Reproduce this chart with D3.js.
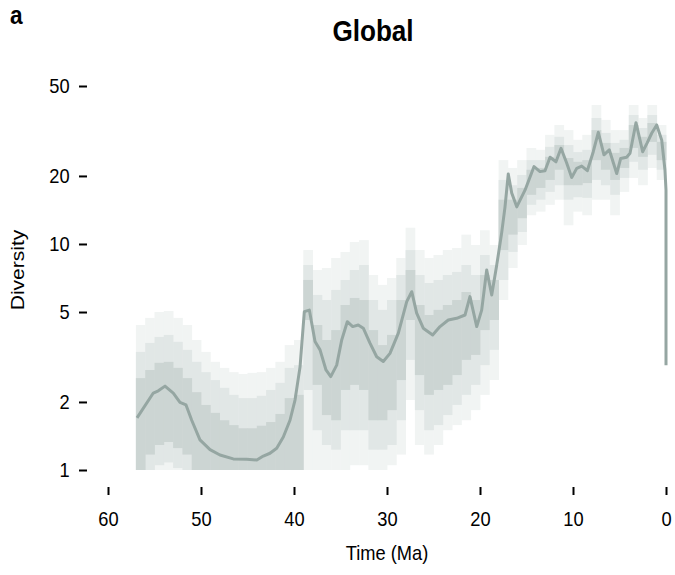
<!DOCTYPE html>
<html>
<head>
<meta charset="utf-8">
<script src="https://cdn.jsdelivr.net/npm/d3@7/dist/d3.min.js"></script>
<style>
  html, body { margin: 0; padding: 0; background: #fff; }
  text { font-family: "Liberation Sans", Arial, Helvetica, sans-serif; fill: #000; }
</style>
</head>
<body>
<svg id="chart" width="675" height="575"></svg>
<script>
// ---------- data ----------
const xTicks = [60, 50, 40, 30, 20, 10, 0];
const yTicks = [1, 2, 5, 10, 20, 50];

// time bins (start of each 1-Ma bin, bin = [t0, t0-1])
const binStart = [57,56,55,54,53,52,51,50,49,48,47,46,45,44,43,42,41,40,39,38,37,36,35,34,33,32,31,30,29,28,27,26,25,24,23,22,21,20,19,18,17,16,15,14,13,12,11,10,9,8,7,6,5,4,3,2,1];
// outer band
const outerHi = [4.38,4.71,5.00,5.05,4.71,4.38,3.76,3.33,3.01,2.83,2.71,2.66,2.69,2.71,2.83,3.01,3.57,3.76,9.40,7.67,7.83,8.67,9.22,10.2,10.4,7.29,6.59,7.07,8.67,11.8,9.40,8.67,8.94,9.40,9.60,11.0,9.90,11.5,9.90,23.5,21.7,23.5,26.6,26.1,30.4,33.6,31.9,28.9,30.4,41.2,35.4,31.9,31.9,41.2,36.1,41.2,33.6];
const outerLo = [1,1,1,1,1,1,1,1,1,1,1,1,1,1,1,1,1,1,1,1,1,1,1,1.05,1.05,1,1,1.05,1.17,2.04,1.29,1.17,1.29,1.50,1.58,1.66,1.84,2.15,2.50,5.65,7.83,9.90,13.4,13.9,14.9,15.7,12.1,13.9,13.4,15.7,15.7,13.4,17.0,19.6,18.2,21.7,19.2];
// middle band
const midHi = [3.33,3.65,3.88,3.96,3.69,3.40,3.01,2.71,2.50,2.31,2.15,2.08,2.08,2.13,2.26,2.43,2.83,2.91,8.07,5.95,5.65,6.26,6.93,7.67,8.07,5.65,5.11,5.65,7.29,9.40,7.29,6.72,6.93,7.29,7.52,8.07,7.29,8.94,8.07,19.2,18.2,20.2,23.5,23.5,26.9,29.8,27.4,25.5,26.1,36.1,31.0,28.0,28.9,37.2,32.6,37.2,30.4];
const midLo = [1,1,1.05,1.08,1.02,1,1,1,1,1,1,1,1,1,1,1,1,1,2.26,1.50,1.29,1.23,1.50,1.50,1.50,1.23,1.23,1.29,1.66,3.07,1.84,1.50,1.58,1.75,1.94,2.15,2.38,2.91,3.40,6.93,9.22,11.3,14.9,15.7,17.0,18.2,15.7,16.1,16.0,19.2,18.2,16.5,19.6,23.1,21.3,24.8,21.3];
// inner band
const innerHi = [2.55,2.77,2.98,3.01,2.83,2.55,2.21,1.94,1.79,1.66,1.58,1.53,1.53,1.57,1.63,1.77,2.08,2.15,6.93,4.38,3.76,4.16,5.37,5.77,5.65,4.16,3.57,3.96,5.65,7.67,5.37,4.85,5.11,5.37,5.65,6.13,5.65,7.29,6.93,15.7,15.7,17.7,21.3,21.7,24.3,27.4,24.0,23.1,23.5,31.9,28.0,25.3,26.6,33.6,29.8,34.3,28.3];
const innerLo = [1,1.17,1.29,1.33,1.25,1.17,1,1,1,1,1,1,1,1,1,1,1,1,4.61,2.38,1.75,1.66,2.26,2.38,2.26,1.66,1.66,1.84,2.50,4.61,2.63,2.15,2.26,2.38,2.63,3.07,3.23,4.16,4.61,9.40,11.0,13.0,16.5,17.7,19.2,21.3,18.2,18.2,18.6,23.5,21.3,19.2,21.7,26.6,24.3,28.3,23.5];

// mean diversity curve
const lineTime = [56.88,55.13,54.59,53.87,52.98,52.26,51.61,51.0,50.11,49.03,47.96,46.53,45.09,44.0,43.3,42.58,41.86,41.15,40.43,39.89,39.35,38.89,38.35,37.74,37.2,36.56,36.05,35.41,34.87,34.27,33.69,33.09,32.55,31.83,31.11,30.40,29.68,28.78,27.88,27.34,26.81,26.10,25.09,24.30,23.41,22.51,21.61,21.08,20.35,19.82,19.28,18.74,18.2,17.67,17.31,16.96,16.59,16.05,15.16,14.19,13.55,13.01,12.47,11.83,11.29,10.68,10.14,9.60,9.06,8.46,7.82,7.28,6.67,6.10,5.30,4.87,4.23,3.87,3.23,2.51,2.01,1.54,1.0,0.46,0.11,0.0,0.0];
const lineDiv = [1.70,2.19,2.24,2.35,2.19,1.99,1.94,1.66,1.36,1.23,1.165,1.12,1.115,1.107,1.153,1.186,1.247,1.40,1.66,2.04,2.86,5.02,5.10,3.70,3.40,2.77,2.59,2.91,3.76,4.53,4.31,4.38,4.24,3.64,3.17,3.02,3.28,4.03,5.56,6.15,4.94,4.24,3.96,4.31,4.61,4.69,4.85,5.85,4.31,5.10,7.67,5.95,8.07,11.2,14.6,20.4,16.8,14.6,17.3,22.0,20.9,21.1,24.2,23.1,26.5,22.8,19.7,21.6,22.1,21.1,25.6,31.2,24.8,26.1,20.5,23.9,24.2,25.2,34.4,25.6,28.1,30.9,33.6,28.8,21.2,17.3,2.91];

// ---------- drawing ----------
const svg = d3.select("#chart");
const x = d3.scaleLinear().domain([60, 0]).range([108, 666]);
const y = d3.scaleLog().domain([1, 50]).range([470, 86]);
const HS = 0.87; // horizontal squeeze of the lettering

const bins = binStart.map((t0, i) => ({
  t0, t1: t0 - 1,
  oHi: outerHi[i], oLo: outerLo[i],
  mHi: midHi[i], mLo: midLo[i],
  iHi: innerHi[i], iLo: innerLo[i]
}));

const layers = [
  {hi: "oHi", lo: "oLo", color: "#f1f4f3"},
  {hi: "mHi", lo: "mLo", color: "#e1e7e6"},
  {hi: "iHi", lo: "iLo", color: "#ccd5d3"}
];
const bandG = svg.append("g");
layers.forEach(L => {
  bandG.append("g").selectAll("rect").data(bins).join("rect")
    .attr("x", d => x(d.t0))
    .attr("width", d => x(d.t1) - x(d.t0) + 0.4)
    .attr("y", d => y(Math.min(50, d[L.hi])))
    .attr("height", d => y(Math.max(1, d[L.lo])) - y(Math.min(50, d[L.hi])))
    .attr("fill", L.color);
});

const pts = lineTime.map((t, i) => [t, lineDiv[i]]);
svg.append("path")
  .datum(pts)
  .attr("fill", "none")
  .attr("stroke", "#95a6a2")
  .attr("stroke-width", 3)
  .attr("stroke-linejoin", "round")
  .attr("d", d3.line().x(d => x(d[0])).y(d => y(d[1])));

// y axis (tick dashes and labels only)
const yAxis = d3.axisLeft(y).tickValues(yTicks).tickFormat(d3.format("d")).tickSize(8).tickPadding(12);
const yg = svg.append("g").attr("transform", "translate(87,0)").call(yAxis);
yg.select(".domain").remove();
yg.selectAll(".tick line").attr("stroke", "#000").attr("stroke-width", 2);
yg.selectAll(".tick text")
  .attr("font-size", 21).attr("font-family", "Liberation Sans, Arial, sans-serif")
  .attr("transform", "scale(" + HS + ",1)");

// x axis
const xAxis = d3.axisBottom(x).tickValues(xTicks).tickSize(8).tickPadding(16);
const xg = svg.append("g").attr("transform", "translate(0,487)").call(xAxis);
xg.select(".domain").remove();
xg.selectAll(".tick line").attr("stroke", "#000").attr("stroke-width", 2);
xg.selectAll(".tick text")
  .attr("font-size", 21).attr("font-family", "Liberation Sans, Arial, sans-serif")
  .attr("transform", "scale(" + HS + ",1)");

// titles
svg.append("text").attr("transform", `translate(373,41) scale(${HS},1)`)
  .attr("text-anchor", "middle").attr("font-size", 30).attr("font-weight", "bold").text("Global");
svg.append("text").attr("transform", `translate(10,24) scale(${HS},1)`)
  .attr("font-size", 26).attr("font-weight", "bold").text("a");
svg.append("text").attr("transform", `translate(387,560) scale(${HS},1)`)
  .attr("text-anchor", "middle").attr("font-size", 21).text("Time (Ma)");
svg.append("text").attr("transform", `translate(24,270) scale(${HS},1) rotate(-90)`)
  .attr("text-anchor", "middle").attr("font-size", 21).text("Diversity");
</script>
</body>
</html>
